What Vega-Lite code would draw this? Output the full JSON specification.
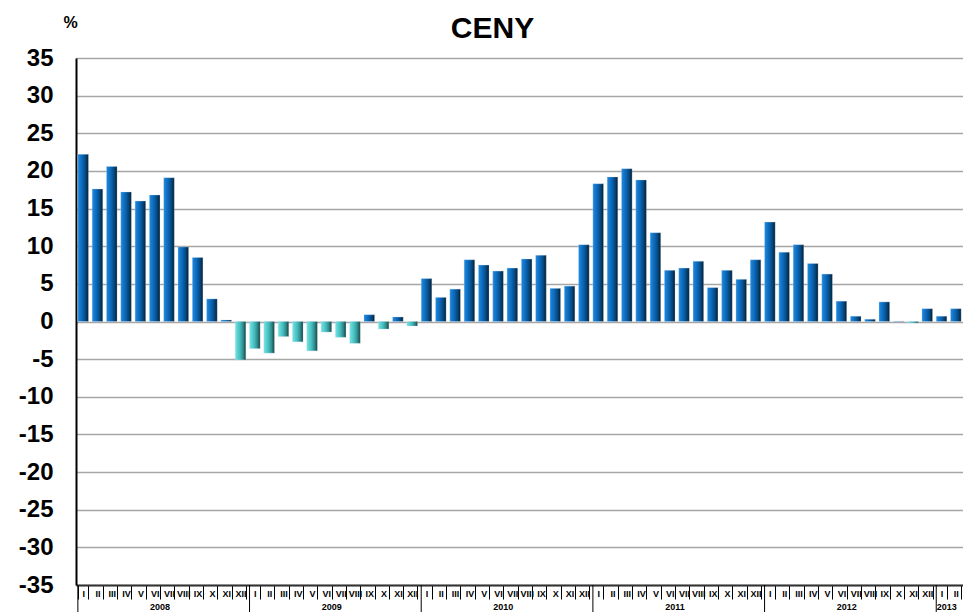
{
  "$schema": "https://vega.github.io/schema/vega-lite/v6.json",
  "width": 887,
  "height": 527,
  "autosize": {"type": "none"},
  "padding": {"left": 76, "top": 58, "right": 0, "bottom": 27},
  "background": "white",
  "config": {"view": {"stroke": null}, "font": "Liberation Sans"},
  "title": {"text": "CENY", "font": "Liberation Sans", "fontSize": 30, "fontWeight": "bold", "color": "#000000", "anchor": "middle", "dx": -27, "offset": -30},
  "data": {"values": [
    {"key": "2008-I", "v": 22.2}, {"key": "2008-II", "v": 17.6}, {"key": "2008-III", "v": 20.6}, {"key": "2008-IV", "v": 17.2},
    {"key": "2008-V", "v": 16.0}, {"key": "2008-VI", "v": 16.8}, {"key": "2008-VII", "v": 19.1}, {"key": "2008-VIII", "v": 9.9},
    {"key": "2008-IX", "v": 8.5}, {"key": "2008-X", "v": 3.0}, {"key": "2008-XI", "v": 0.2}, {"key": "2008-XII", "v": -5.1},
    {"key": "2009-I", "v": -3.6}, {"key": "2009-II", "v": -4.2}, {"key": "2009-III", "v": -2.0}, {"key": "2009-IV", "v": -2.7},
    {"key": "2009-V", "v": -3.9}, {"key": "2009-VI", "v": -1.4}, {"key": "2009-VII", "v": -2.1}, {"key": "2009-VIII", "v": -2.9},
    {"key": "2009-IX", "v": 0.9}, {"key": "2009-X", "v": -1.0}, {"key": "2009-XI", "v": 0.6}, {"key": "2009-XII", "v": -0.6},
    {"key": "2010-I", "v": 5.7}, {"key": "2010-II", "v": 3.2}, {"key": "2010-III", "v": 4.3}, {"key": "2010-IV", "v": 8.2},
    {"key": "2010-V", "v": 7.5}, {"key": "2010-VI", "v": 6.7}, {"key": "2010-VII", "v": 7.1}, {"key": "2010-VIII", "v": 8.3},
    {"key": "2010-IX", "v": 8.8}, {"key": "2010-X", "v": 4.4}, {"key": "2010-XI", "v": 4.7}, {"key": "2010-XII", "v": 10.2},
    {"key": "2011-I", "v": 18.3}, {"key": "2011-II", "v": 19.2}, {"key": "2011-III", "v": 20.3}, {"key": "2011-IV", "v": 18.8},
    {"key": "2011-V", "v": 11.8}, {"key": "2011-VI", "v": 6.8}, {"key": "2011-VII", "v": 7.1}, {"key": "2011-VIII", "v": 8.0},
    {"key": "2011-IX", "v": 4.5}, {"key": "2011-X", "v": 6.8}, {"key": "2011-XI", "v": 5.6}, {"key": "2011-XII", "v": 8.2},
    {"key": "2012-I", "v": 13.2}, {"key": "2012-II", "v": 9.2}, {"key": "2012-III", "v": 10.2}, {"key": "2012-IV", "v": 7.7},
    {"key": "2012-V", "v": 6.3}, {"key": "2012-VI", "v": 2.7}, {"key": "2012-VII", "v": 0.7}, {"key": "2012-VIII", "v": 0.3},
    {"key": "2012-IX", "v": 2.6}, {"key": "2012-X", "v": 0.05}, {"key": "2012-XI", "v": -0.2}, {"key": "2012-XII", "v": 1.7},
    {"key": "2013-I", "v": 0.7}, {"key": "2013-II", "v": 1.7}
  ]},
  "layer": [
    {
      "mark": {"type": "bar", "stroke": "#BFD9F0", "strokeWidth": 0.5, "strokeOpacity": 0.6},
      "encoding": {
        "x": {"field": "key", "type": "nominal", "sort": null,
          "scale": {"paddingInner": 0.26, "paddingOuter": 0.13},
          "axis": {"title": null, "labelExpr": "split(datum.value, '-')[1]", "labelAngle": 0, "labelFont": "Liberation Sans", "labelFontSize": 9, "labelFontWeight": "bold", "labelColor": "#000000", "labelPadding": -10, "tickBand": "extent", "tickSize": 14, "tickColor": "#000000", "tickWidth": 1, "domainColor": "#333333", "domainWidth": 2, "labelOverlap": false}},
        "y": {"field": "v", "type": "quantitative",
          "scale": {"domain": [-35, 35], "nice": false, "zero": true},
          "axis": {"values": [-35, -30, -25, -20, -15, -10, -5, 0, 5, 10, 15, 20, 25, 30, 35], "tickCount": 30, "labelExpr": "'' + datum.value", "labelOverlap": false, "labelFlush": false, "title": "%", "titleAngle": 0, "titleX": -6, "titleY": -36, "titleAlign": "center", "titleBaseline": "middle", "titleFont": "Liberation Sans", "titleFontSize": 16, "titleFontWeight": "bold", "titleColor": "#000000", "labelFont": "Liberation Sans", "labelFontSize": 24, "labelFontWeight": "bold", "labelColor": "#000000", "labelPadding": 23, "ticks": false, "domainColor": "#000000", "domainWidth": 2, "grid": true, "gridColor": "#A6A6A6", "gridWidth": 1.5}},
        "color": {
          "condition": {"test": "datum.v < 0", "value": {"gradient": "linear", "x1": 0, "x2": 1, "y1": 0, "y2": 0, "stops": [{"offset": 0, "color": "#74E4E4"}, {"offset": 0.45, "color": "#45BDBD"}, {"offset": 0.75, "color": "#2E8A8A"}, {"offset": 1, "color": "#143E3E"}]}},
          "value": {"gradient": "linear", "x1": 0, "x2": 1, "y1": 0, "y2": 0, "stops": [{"offset": 0, "color": "#1F8AE0"}, {"offset": 0.45, "color": "#0A64B4"}, {"offset": 0.75, "color": "#064578"}, {"offset": 1, "color": "#031B30"}]}
        }
      }
    },
    {
      "data": {"values": [
        {"year": "2008", "mid": "2008-VI", "first": "2008-I"},
        {"year": "2009", "mid": "2009-VI", "first": "2009-I"},
        {"year": "2010", "mid": "2010-VI", "first": "2010-I"},
        {"year": "2011", "mid": "2011-VI", "first": "2011-I"},
        {"year": "2012", "mid": "2012-VI", "first": "2012-I"},
        {"year": "2013", "mid": "2013-I", "first": "2013-I"}
      ]},
      "layer": [
        {
          "mark": {"type": "text", "font": "Liberation Sans", "fontSize": 9, "fontWeight": "bold", "color": "#000000", "baseline": "middle", "dy": 22},
          "encoding": {
            "x": {"field": "mid", "type": "nominal", "sort": null, "bandPosition": 1},
            "y": {"datum": -35, "type": "quantitative"},
            "text": {"field": "year"}
          }
        },
        {
          "mark": {"type": "rule", "color": "#000000", "strokeWidth": 1},
          "encoding": {
            "x": {"field": "first", "type": "nominal", "sort": null, "bandPosition": 0},
            "y": {"datum": -35, "type": "quantitative"},
            "y2": {"datum": -38.6}
          }
        }
      ]
    }
  ]
}
